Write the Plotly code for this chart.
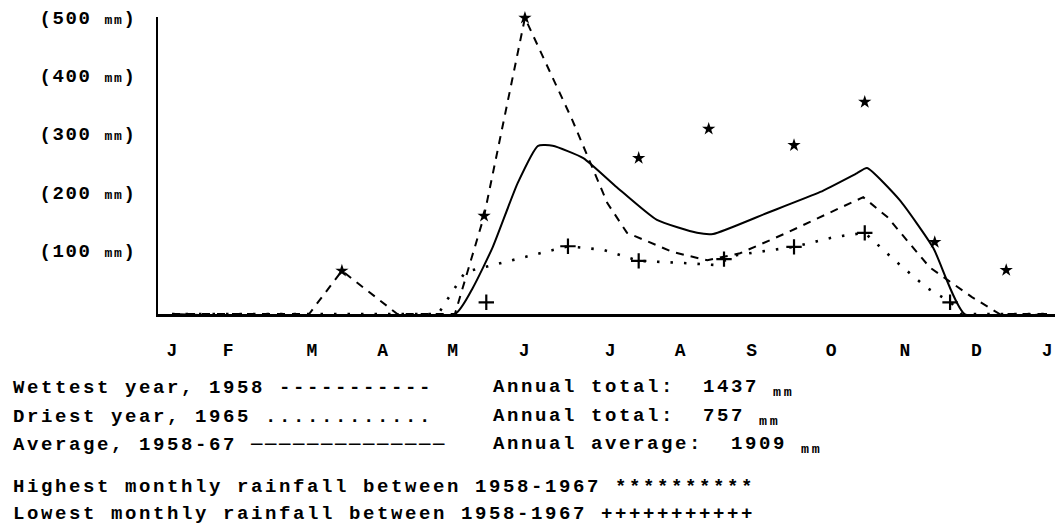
import plotly.graph_objects as go

# ---------------- data ----------------
# x unit = months since 1 January (0 = start of Jan, 12 = start of next Jan); y unit = mm
month_labels = ["J", "F", "M", "A", "M", "J", "J", "A", "S", "O", "N", "D", "J"]
month_label_pos = [0, 0.77, 1.92, 2.89, 3.85, 4.83, 6.01, 6.97, 7.95, 9.04, 10.05, 11.03, 12]

y_tick_vals = [100, 200, 300, 400, 500]

# Wettest year, 1958 (dashed)
wet_x = [0, 1.88, 2.33, 3.09, 3.88, 4.28, 4.84, 5.49, 5.97, 6.24, 6.87, 7.34, 7.79,
         8.43, 9.13, 9.48, 9.81, 10.39, 10.97, 11.35, 12]
wet_y = [0, 0, 74, 0, 0, 168, 507, 332, 190, 139, 106, 92, 104,
         139, 180, 200, 166, 80, 29, 0, 0]

# Driest year, 1965 (dotted)
dry_x = [0, 3.65, 4.02, 4.50, 5.43, 5.91, 6.40, 7.06, 7.45, 7.75, 8.53, 9.09,
         9.50, 9.91, 10.35, 10.67, 10.83, 12]
dry_y = [0, 0, 72, 87, 116, 110, 91, 87, 84, 101, 115, 132,
         139, 92, 45, 21, 0, 0]

# Average, 1958-67 (solid)
avg_x = [0, 3.88, 4.13, 4.40, 4.74, 5.02, 5.22, 5.64, 6.10, 6.65, 7.20, 7.42,
         8.16, 8.89, 9.39, 9.53, 9.98, 10.44, 10.87, 12]
avg_y = [0, 0, 46, 115, 224, 288, 288, 267, 217, 161, 139, 137,
         173, 209, 241, 250, 195, 113, 0, 0]

# Highest monthly rainfall 1958-1967 (stars)
high_x = [2.33, 4.28, 4.84, 6.40, 7.36, 8.53, 9.50, 10.46, 11.44]
high_y = [74, 168, 507, 267, 317, 289, 363, 123, 75]

# Lowest monthly rainfall 1958-1967 (crosses)
low_x = [4.31, 5.43, 6.40, 7.57, 8.53, 9.50, 10.67]
low_y = [20, 116, 91, 94, 115, 139, 20]

# ---------------- layout geometry ----------------
W, H = 1055, 524
L, R, T, B = 158, 1055, 17, 314          # plot area edges in pixels
X_RANGE = [-0.192, 12.109]
Y_RANGE = [0, 508.6]

FONT = "Liberation Mono, DejaVu Sans Mono, monospace"
SP = "letter-spacing:2.6px"


def px_x(px):
    return (px - L) / (R - L)


def px_y(py):
    return (B - py) / (B - T)


fig = go.Figure()

fig.add_trace(go.Scatter(x=wet_x, y=wet_y, mode="lines", cliponaxis=False,
                         line=dict(color="black", width=2, dash="8px,7px")))
fig.add_trace(go.Scatter(x=dry_x, y=dry_y, mode="lines", cliponaxis=False,
                         line=dict(color="black", width=2.6, dash="2.5px,11px")))
fig.add_trace(go.Scatter(x=avg_x, y=avg_y, mode="lines", cliponaxis=False,
                         line=dict(color="black", width=2, shape="spline", smoothing=0.5)))
fig.add_trace(go.Scatter(x=high_x, y=high_y, mode="markers", cliponaxis=False,
                         marker=dict(symbol="star", size=10, color="black")))
fig.add_trace(go.Scatter(x=low_x, y=low_y, mode="markers", cliponaxis=False,
                         marker=dict(symbol="cross-thin", size=11,
                                     line=dict(color="black", width=2.2))))

mm_small = "<span style='font-size:13px'>mm</span>"
fig.update_yaxes(range=Y_RANGE, showgrid=False, zeroline=False,
                 showline=True, linecolor="black", linewidth=1.5,
                 tickvals=y_tick_vals,
                 ticktext=[f"<span style='letter-spacing:1.6px'>({v} {mm_small})</span>"
                           for v in y_tick_vals],
                 ticks="", ticklabelstandoff=16, ticklabelshift=-5,
                 tickfont=dict(family=FONT, size=19, color="black", weight="bold"))
fig.update_xaxes(range=X_RANGE, showgrid=False, zeroline=False,
                 showline=True, linecolor="black", linewidth=3,
                 tickvals=month_label_pos, ticktext=month_labels,
                 ticks="", ticklabelstandoff=17, ticklabeloverflow="allow",
                 tickfont=dict(family=FONT, size=18, color="black", weight="bold"))

left_rows = [
    ("Wettest year, 1958 -----------", 388),
    ("Driest year, 1965 ............", 417),
    ("Average, 1958-67 ──────────────", 445),
    ("Highest monthly rainfall between 1958-1967 **********", 487),
    ("Lowest monthly rainfall between 1958-1967 +++++++++++", 514),
]
right_rows = [
    ("Annual total:  1437 <sub>mm</sub>", 388),
    ("Annual total:  757 <sub>mm</sub>", 417),
    ("Annual average:  1909 <sub>mm</sub>", 445),
]
annotations = []
for txt, py in left_rows:
    annotations.append(dict(text=f"<span style='{SP}'>{txt}</span>",
                            x=px_x(11), y=px_y(py), xref="paper", yref="paper",
                            xanchor="left", yanchor="middle", showarrow=False,
                            font=dict(family=FONT, size=19, color="black", weight="bold")))
for txt, py in right_rows:
    annotations.append(dict(text=f"<span style='{SP}'>{txt}</span>",
                            x=px_x(491), y=px_y(py), xref="paper", yref="paper",
                            xanchor="left", yanchor="middle", showarrow=False,
                            font=dict(family=FONT, size=19, color="black", weight="bold")))

fig.update_layout(width=W, height=H, autosize=False,
                  margin=dict(l=L, r=W - R, t=T, b=H - B, pad=0),
                  paper_bgcolor="white", plot_bgcolor="white",
                  showlegend=False, annotations=annotations)

fig.write_html("out.html", config={"displayModeBar": False},
               post_script="document.body.style.margin='0';document.body.style.overflow='hidden';")
